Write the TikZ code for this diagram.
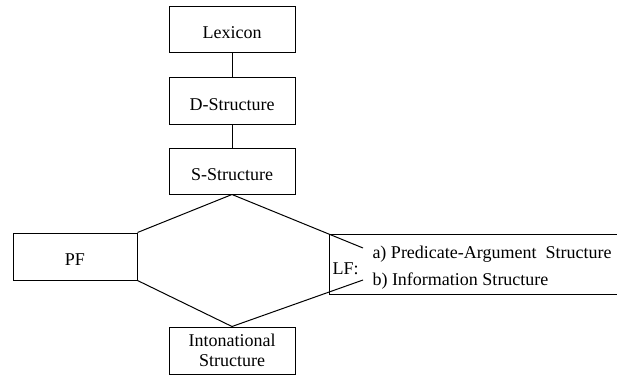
\documentclass[tikz,border=0pt]{standalone}
\usepackage{fontspec}
\setmainfont{Liberation Serif}
\begin{document}
\begin{tikzpicture}[x=1pt,y=-1pt,line width=1pt,
  lbl/.style={font=\fontsize{18}{20}\selectfont},
  box/.style={draw,rectangle,minimum width=126pt,minimum height=46pt,inner sep=0pt,lbl,text height=18pt,text depth=0pt},
  txt/.style={inner sep=0pt,anchor=base west,lbl}]
\useasboundingbox (0,0) rectangle (617,374);
\clip (0,0) rectangle (617,374);
\node[box] (lex) at (232,30) {Lexicon};
\node[box,minimum height=47pt] (ds) at (232,101.5) {D-Structure};
\node[box] (ss) at (232,171) {S-Structure};
\node[box,minimum width=124pt,minimum height=47pt] (pf) at (75,256.5) {PF};
\node[draw,rectangle,minimum width=126pt,minimum height=47pt,inner sep=0pt,lbl,align=center] (int) at (232,350.5) {Intonational\\Structure};
\node[draw,rectangle,minimum width=301pt,minimum height=60pt,inner sep=0pt] (lf) at (479.5,264) {};
\node[txt] (lft) at (332,274) {LF:};
\node[txt] (la) at (372,258) {a) Predicate-Argument\ \ Structure};
\node[txt] (lb) at (372,285) {b) Information Structure};
\coordinate (ua) at (363,248);
\coordinate (ub) at (363,280);
\draw (lex) -- (ds);
\draw (ds) -- (ss);
\draw (ss.south) -- (pf.north east);
\draw (pf.south east) -- (int.north);
\draw (ss.south) -- (ua);
\draw (int.north) -- (ub);
\end{tikzpicture}
\end{document}
